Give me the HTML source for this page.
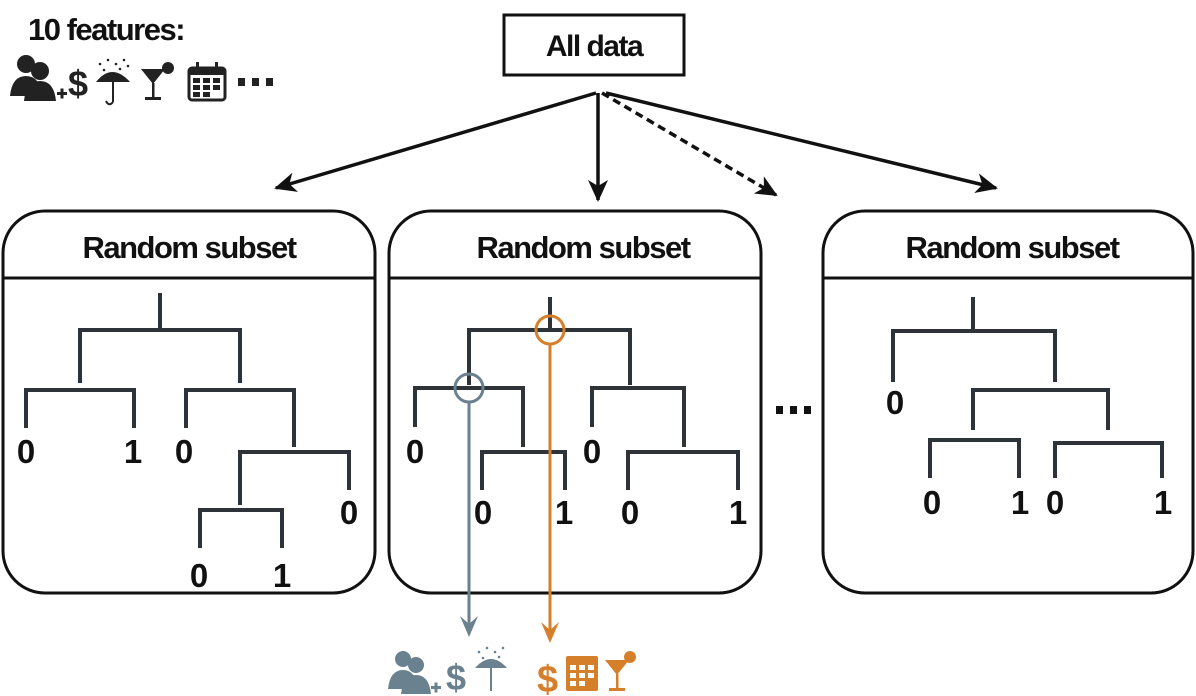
<!DOCTYPE html>
<html><head><meta charset="utf-8"><style>
html,body{margin:0;padding:0;background:#fff;}
svg{display:block;}
text{font-family:"Liberation Sans",sans-serif;font-weight:bold;}
</style></head><body>
<svg width="1196" height="696" viewBox="0 0 1196 696" xmlns="http://www.w3.org/2000/svg">
<defs>
<marker id="ah" markerWidth="24" markerHeight="20" refX="20" refY="10" orient="auto" markerUnits="userSpaceOnUse"><path d="M0,0 L22,10 L0,20 L6,10 z" fill="#111"/></marker>
</defs>
<!-- header -->
<text x="28" y="40" font-size="31" fill="#111" letter-spacing="-1.5">10 features:</text>
<g fill="#222">
 <circle cx="26" cy="64" r="9"/><path d="M10,96 q2,-20 16,-20 q14,0 16,20z"/>
 <circle cx="40" cy="71" r="9"/><path d="M24,101 q2,-20 16,-20 q14,0 16,20z"/>
 <rect x="57" y="92" width="10" height="3"/><rect x="60.5" y="88.5" width="3" height="10"/>
</g>
<text x="68" y="96" font-size="36" fill="#222" font-weight="normal">$</text>
<g fill="#222"><path d="M96,82 q16,-20 34,0z"/><rect x="112" y="74" width="2" height="28"/><path d="M113,102 q-4,5 -7,-1" stroke="#222" fill="none" stroke-width="2"/>
<circle cx="100" cy="64" r="1.3"/><circle cx="108" cy="60" r="1.3"/><circle cx="116" cy="64" r="1.3"/><circle cx="124" cy="60" r="1.3"/><circle cx="104" cy="70" r="1.3"/><circle cx="120" cy="69" r="1.3"/><circle cx="128" cy="66" r="1.3"/></g>
<g fill="#222"><path d="M141,69 h24 l-12,15z"/><rect x="152" y="83" width="2.5" height="15"/><rect x="145" y="97" width="16" height="3"/><circle cx="168" cy="68" r="6"/></g>
<g><rect x="189" y="68" width="36" height="32" rx="3" fill="#fff" stroke="#222" stroke-width="3"/><rect x="189" y="68" width="36" height="7" fill="#222"/>
<rect x="196" y="62" width="3" height="8" fill="#222"/><rect x="215" y="62" width="3" height="8" fill="#222"/>
<g fill="#222"><rect x="193" y="78" width="7" height="5"/><rect x="203" y="78" width="7" height="5"/><rect x="213" y="78" width="7" height="5"/><rect x="193" y="85" width="7" height="5"/><rect x="203" y="85" width="7" height="5"/><rect x="213" y="85" width="7" height="5"/><rect x="193" y="92" width="7" height="5"/><rect x="203" y="92" width="7" height="5"/></g></g>
<g fill="#222"><rect x="238" y="78" width="7" height="8"/><rect x="252" y="78" width="7" height="8"/><rect x="266" y="78" width="7" height="8"/></g>

<!-- All data -->
<rect x="504" y="15" width="180" height="60" fill="#fff" stroke="#111" stroke-width="3"/>
<text x="594" y="56" font-size="30" text-anchor="middle" fill="#111" letter-spacing="-1.5">All data</text>

<!-- arrows -->
<g stroke="#111" stroke-width="3.5" fill="none">
<line x1="596" y1="93" x2="276" y2="188" marker-end="url(#ah)"/>
<line x1="598" y1="93" x2="598" y2="200" marker-end="url(#ah)"/>
<line x1="602" y1="93" x2="776" y2="195" stroke-dasharray="8,5" marker-end="url(#ah)"/>
<line x1="606" y1="93" x2="996" y2="188" marker-end="url(#ah)"/>
</g>

<!-- boxes -->
<g fill="none" stroke="#111" stroke-width="3">
<rect x="3" y="211" width="372" height="382" rx="42"/><line x1="3" y1="278" x2="375" y2="278"/>
<rect x="389" y="211" width="372" height="382" rx="42"/><line x1="389" y1="278" x2="761" y2="278"/>
<rect x="823" y="211" width="370" height="382" rx="42"/><line x1="823" y1="278" x2="1193" y2="278"/>
</g>
<g font-size="31" fill="#111" text-anchor="middle" letter-spacing="-1.5">
<text x="189" y="258">Random subset</text>
<text x="583" y="258">Random subset</text>
<text x="1012" y="258">Random subset</text>
</g>

<!-- trees -->
<g stroke="#2d3338" stroke-width="4" fill="none">
<path d="M160,293V330 M80,383V330H240V383 M26,428V390H134V428 M186,428V390H294V447 M240,505V452H349V490 M200,548V510H282V548"/>
<path d="M550,297V330 M469,385V330H630V385 M415,427V388H523V447 M482,490V452H565V490 M592,427V388H684V447 M628,490V452H738V490"/>
<path d="M973,297V331 M893,382V331H1055V382 M973,430V390H1108V430 M930,478V440H1019V478 M1055,478V443H1162V478"/>
</g>
<g font-size="33" fill="#111" text-anchor="middle">
<text x="26" y="463">0</text><text x="133" y="463">1</text><text x="184" y="463">0</text>
<text x="349" y="524">0</text><text x="199" y="587">0</text><text x="282" y="587">1</text>
<text x="415" y="463">0</text><text x="592" y="463">0</text>
<text x="483" y="524">0</text><text x="564" y="524">1</text><text x="630" y="524">0</text><text x="738" y="524">1</text>
<text x="895" y="414">0</text><text x="932" y="514">0</text><text x="1020" y="514">1</text><text x="1055" y="514">0</text><text x="1163" y="514">1</text>
</g>
<g fill="#111"><rect x="776" y="406" width="7" height="8"/><rect x="790" y="406" width="7" height="8"/><rect x="804" y="406" width="7" height="8"/></g>

<!-- grey / orange paths -->
<circle cx="469" cy="388" r="14" fill="none" stroke="#6a8190" stroke-width="3"/>
<line x1="469" y1="402" x2="469" y2="630" stroke="#6a8190" stroke-width="3"/>
<path d="M460,616 L469,637 L478,616 L469,624z" fill="#6a8190"/>
<circle cx="550" cy="330" r="14" fill="none" stroke="#d67f2a" stroke-width="3"/>
<line x1="550" y1="344" x2="550" y2="635" stroke="#d67f2a" stroke-width="3"/>
<path d="M541,622 L550,643 L559,622 L550,630z" fill="#d67f2a"/>

<!-- bottom icons grey -->
<g fill="#6a8190">
 <circle cx="403" cy="659" r="8"/><path d="M388,689 q2,-19 15,-19 q13,0 15,19z"/>
 <circle cx="416" cy="665" r="8"/><path d="M401,694 q2,-19 15,-19 q13,0 15,19z"/>
 <rect x="431" y="686" width="10" height="3"/><rect x="434.5" y="682.5" width="3" height="10"/>
 <path d="M475,668 q16,-18 32,0z"/><rect x="490" y="661" width="2" height="30"/>
 <circle cx="479" cy="652" r="1.3"/><circle cx="487" cy="648" r="1.3"/><circle cx="495" cy="652" r="1.3"/><circle cx="503" cy="648" r="1.3"/><circle cx="483" cy="658" r="1.3"/><circle cx="499" cy="657" r="1.3"/>
</g>
<text x="446" y="690" font-size="36" fill="#6a8190" font-weight="normal">$</text>
<!-- orange -->
<text x="537" y="692" font-size="38" fill="#d67f2a">$</text>
<g><rect x="566" y="656" width="32" height="35" rx="2" fill="#d67f2a"/>
<g fill="#fff"><rect x="570" y="665" width="6" height="5"/><rect x="579" y="665" width="6" height="5"/><rect x="588" y="665" width="6" height="5"/><rect x="570" y="673" width="6" height="5"/><rect x="579" y="673" width="6" height="5"/><rect x="588" y="673" width="6" height="5"/><rect x="570" y="681" width="6" height="5"/><rect x="579" y="681" width="6" height="5"/></g></g>
<g fill="#d67f2a"><path d="M605,660 h24 l-12,15z"/><rect x="616" y="674" width="2.5" height="14"/><rect x="609" y="688" width="16" height="3"/><circle cx="630" cy="657" r="6"/></g>
</svg>
</body></html>
